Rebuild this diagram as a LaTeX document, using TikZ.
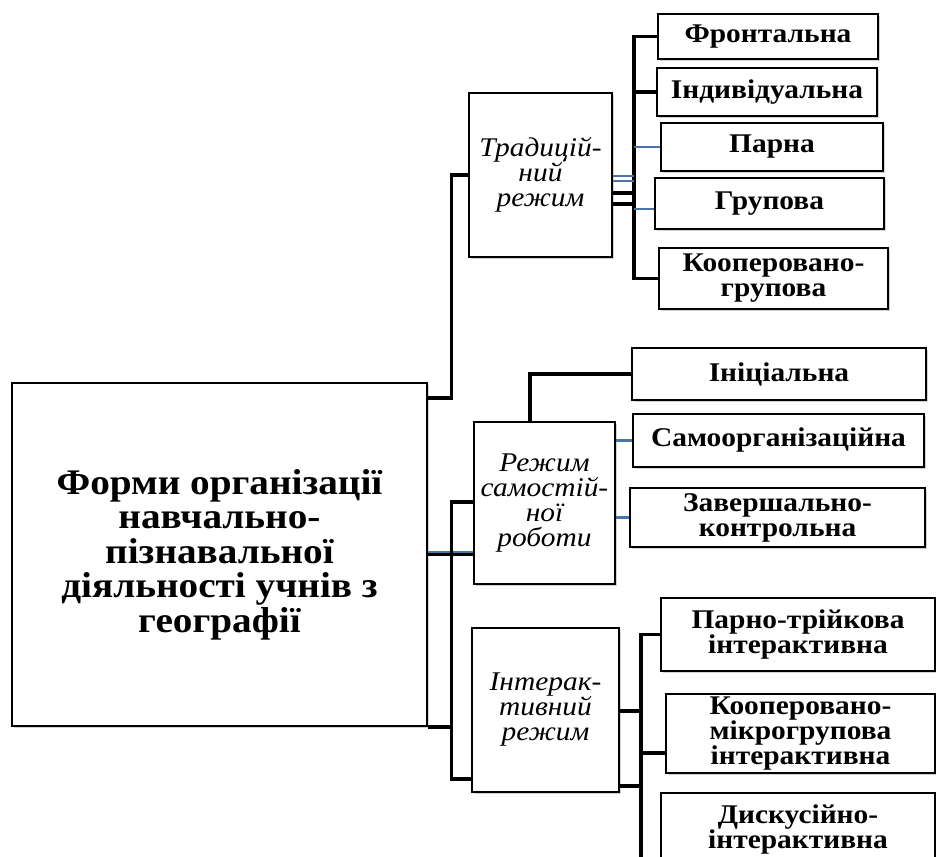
\documentclass[tikz,border=0pt]{standalone}
\usepackage{fontspec}
\setmainfont{Liberation Serif}[FakeStretch=1.09]
\usetikzlibrary{shadows,calc}
\definecolor{lnblue}{RGB}{74,116,168}
\begin{document}
\begin{tikzpicture}[x=1pt,y=-1pt,
  box/.style={draw, line width=1.7pt, fill=white, inner sep=0pt, align=center,
    drop shadow={shadow xshift=2pt, shadow yshift=-2pt, opacity=0.35, fill=gray}},
  conn/.style={line width=3.6pt, black},
  blueln/.style={line width=2.6pt, lnblue},
  maintxt/.style={font=\fontsize{36}{34.5}\selectfont\bfseries},
  modetxt/.style={font=\fontsize{27}{25}\selectfont\itshape},
  leaftxt/.style={font=\fontsize{27}{25}\selectfont\bfseries}]
\fill[white] (0,0) rectangle (936,856);
\clip (0,0) rectangle (936,856);
% buses
\coordinate (mb) at (451.5,0);
\coordinate (tb) at (634,0);
\coordinate (ib) at (641,0);
\coordinate (ibend) at (641,870);
% nodes
\node[box, maintxt, minimum width=415, minimum height=343] (main) at (219.5,554.5)
  {Форми організації\\навчально-\\пізнавальної\\діяльності учнів з\\географії};
\node[box, modetxt, minimum width=143, minimum height=164] (trad) at (540.5,175)
  {Традицій-\\ний\\режим};
\node[box, modetxt, minimum width=141, minimum height=162] (self) at (544.5,503)
  {Режим\\самостій-\\ної\\роботи};
\node[box, modetxt, minimum width=147, minimum height=164] (inter) at (545.5,710)
  {Інтерак-\\тивний\\режим};
\node[box, leaftxt, minimum width=220, minimum height=45] (front) at (768,36.5) {Фронтальна};
\node[box, leaftxt, minimum width=220, minimum height=48] (indiv) at (767,92) {Індивідуальна};
\node[box, leaftxt, minimum width=222, minimum height=48] (parna) at (772,147) {Парна};
\node[box, leaftxt, minimum width=229, minimum height=51] (grup) at (769.5,203.5) {Групова};
\node[box, leaftxt, minimum width=229, minimum height=61] (koopgr) at (773.5,278.5) {Кооперовано-\\групова};
\node[box, leaftxt, minimum width=294, minimum height=52] (init) at (779,374) {Ініціальна};
\node[box, leaftxt, minimum width=291, minimum height=53] (samo) at (778.5,440.5) {Самоорганізаційна};
\node[box, leaftxt, minimum width=295, minimum height=59] (zav) at (777.5,517.5) {Завершально-\\контрольна};
\node[box, leaftxt, minimum width=274, minimum height=73] (parno) at (798,634.5) {Парно-трійкова\\інтерактивна};
\node[box, leaftxt, minimum width=269, minimum height=79] (koopm) at (800.5,733.5) {Кооперовано-\\мікрогрупова\\інтерактивна};
\node[box, leaftxt, minimum width=274, minimum height=72] (dysk) at (798,829) {Дискусійно-\\інтерактивна};
% main connectors
\draw[conn] ([yshift=-16pt]main.north east) -| (trad.west -| mb) -- (trad.west);
\draw[conn] (main.east) -- (main.east -| self.west);
\draw[blueln] ([yshift=2.5pt]main.east) -- ([yshift=2.5pt]main.east -| self.west);
\draw[conn] ([yshift=1pt]self.west) -- ([yshift=1pt]self.west -| mb) |- ([yshift=-69pt]inter.west);
\draw[conn] (main.south east) -- (main.south east -| mb);
% traditional group
\draw[conn] (front.west) -- (front.west -| tb) |- (koopgr.west);
\draw[conn] (indiv.west) -- (indiv.west -| tb);
\draw[blueln] (parna.west) -- (parna.west -| tb);
\draw[blueln] ([yshift=-5.5pt]grup.west) -- ([yshift=-5.5pt]grup.west -| tb);
\draw[blueln] ([yshift=-1pt]trad.east) -- ([yshift=-1pt]trad.east -| tb);
\draw[blueln] ([yshift=-6pt]trad.east) -- ([yshift=-6pt]trad.east -| tb);
\draw[conn] ([yshift=-18pt]trad.east) -- ([yshift=-18pt]trad.east -| tb);
\draw[conn] ([yshift=-29pt]trad.east) -- ([yshift=-29pt]trad.east -| tb);
% self-work group
\draw[conn] ([xshift=-14.5pt]self.north) |- (init.west);
\draw[blueln] (samo.west) -- (samo.west -| self.east);
\draw[blueln] (zav.west) -- (zav.west -| self.east);
% interactive group
\draw[conn] (parno.west) -- (parno.west -| ib) -- (ibend);
\draw[conn] ([yshift=-19.5pt]koopm.west) -- ([yshift=-19.5pt]koopm.west -| ib);
\draw[conn] ([yshift=-1pt]inter.east) -- ([yshift=-1pt]inter.east -| ib);
\draw[conn] ([yshift=-76pt]inter.east) -- ([yshift=-76pt]inter.east -| ib);
\end{tikzpicture}
\end{document}
